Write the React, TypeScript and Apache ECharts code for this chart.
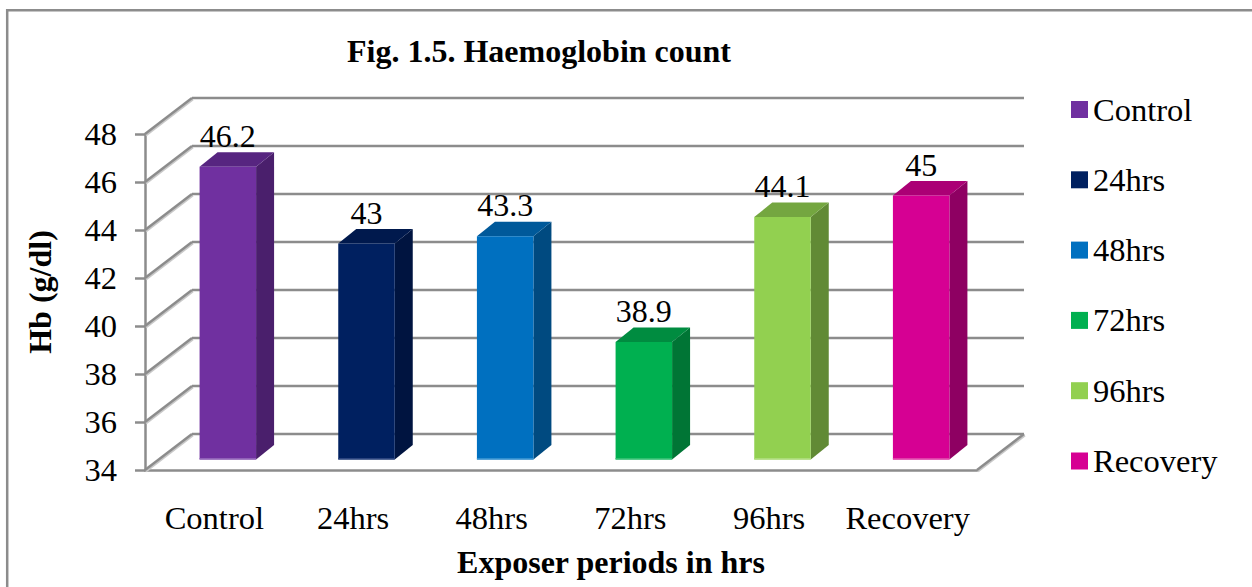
import React, { useEffect, useRef } from "react";
import * as echarts from "echarts";

const categories = ["Control", "24hrs", "48hrs", "72hrs", "96hrs", "Recovery"];
const values = [46.2, 43, 43.3, 38.9, 44.1, 45];
const labels = ["46.2", "43", "43.3", "38.9", "44.1", "45"];
const faceColors = ["#7030A0", "#002060", "#0070C0", "#00B050", "#92D050", "#D60093"];
const sideColors = ["#4A1F6C", "#001440", "#004A80", "#007535", "#618A35", "#8E0062"];
const topColors = ["#572580", "#00194D", "#00599A", "#008C40", "#74A640", "#AB0075"];
const rimColors = ["#9060B8", "#2A4480", "#3090D0", "#30C070", "#ACDC78", "#E040A8"];
const yTicks = [34, 36, 38, 40, 42, 44, 46, 48];

const FONT = '"Liberation Serif", "Times New Roman", serif';
const GRID_COLOR = "#8C8C8C";
const WALL_DX = 47;
const WALL_DY = -36;
const BAR_OFFSET_X = 13.5;
const BAR_OFFSET_Y = -10.5;
const BAR_WIDTH = 56.5;
const BAR_DX = 18;
const BAR_DY = -14.5;

const wallRender = (p: any, api: any) => {
  const v = api.value(0);
  const [, y] = api.coord([0, v]);
  const rect = p.coordSys;
  const left = rect.x;
  const right = rect.x + rect.width;
  const children: any[] = [
    {
      type: "line",
      shape: { x1: left + 1, y1: y + 1.5, x2: left + WALL_DX + 1, y2: y + WALL_DY + 1.5 },
      style: { stroke: "#C9C9C9", lineWidth: 2 },
    },
    {
      type: "line",
      shape: { x1: left, y1: y, x2: left + WALL_DX, y2: y + WALL_DY },
      style: { stroke: GRID_COLOR, lineWidth: 2.5 },
    },
    {
      type: "line",
      shape: { x1: left + WALL_DX, y1: y + WALL_DY, x2: right + WALL_DX, y2: y + WALL_DY },
      style: { stroke: GRID_COLOR, lineWidth: 2.5 },
    },
  ];
  if (v === yTicks[0]) {
    children.push(
      {
        type: "line",
        shape: { x1: right + 1, y1: y + 1.5, x2: right + WALL_DX + 1, y2: y + WALL_DY + 1.5 },
        style: { stroke: "#C9C9C9", lineWidth: 2 },
      },
      {
        type: "line",
        shape: { x1: right, y1: y, x2: right + WALL_DX, y2: y + WALL_DY },
        style: { stroke: GRID_COLOR, lineWidth: 2.5 },
      }
    );
  }
  return { type: "group", children };
};

const barRender = (index: number) => (_p: any, api: any) => {
  const cat = api.value(0);
  const val = api.value(1);
  const [cx, yTop0] = api.coord([cat, val]);
  const [, yBase0] = api.coord([cat, yTicks[0]]);
  const xL = cx + BAR_OFFSET_X - BAR_WIDTH / 2;
  const xR = xL + BAR_WIDTH;
  const yTop = yTop0 + BAR_OFFSET_Y;
  const yBase = yBase0 + BAR_OFFSET_Y;
  return {
    type: "group",
    children: [
      {
        type: "polygon",
        shape: { points: [[xR, yTop], [xR + BAR_DX, yTop + BAR_DY], [xR + BAR_DX, yBase + BAR_DY], [xR, yBase]] },
        style: { fill: sideColors[index] },
      },
      {
        type: "polygon",
        shape: { points: [[xL, yTop], [xL + BAR_DX, yTop + BAR_DY], [xR + BAR_DX, yTop + BAR_DY], [xR, yTop]] },
        style: { fill: topColors[index] },
      },
      {
        type: "rect",
        shape: { x: xL, y: yTop, width: BAR_WIDTH, height: yBase - yTop },
        style: { fill: faceColors[index] },
      },
      {
        type: "rect",
        shape: { x: xL, y: yBase - 1.5, width: BAR_WIDTH, height: 1.5 },
        style: { fill: rimColors[index] },
      },
      {
        type: "text",
        x: xL + BAR_WIDTH / 2,
        y: yTop + BAR_DY - 0.5,
        style: {
          text: labels[index],
          font: `32px ${FONT}`,
          fill: "#000",
          textAlign: "center",
          textVerticalAlign: "bottom",
        },
      },
    ],
  };
};

export default function App() {
  const ref = useRef<HTMLDivElement>(null);
  useEffect(() => {
    const chart = echarts.init(ref.current!, undefined, { renderer: "svg" });
    chart.setOption({
      animation: false,
      backgroundColor: "#fff",
      grid: { left: 145, right: 275, top: 134, bottom: 117 },
      title: {
        text: "Fig. 1.5. Haemoglobin count",
        left: 539,
        top: 35,
        padding: 0,
        textAlign: "center",
        textStyle: { fontFamily: FONT, fontSize: 32, fontWeight: "bold", color: "#000" },
      },
      legend: {
        orient: "vertical",
        left: 1071,
        top: 93,
        padding: 0,
        icon: "rect",
        itemWidth: 17,
        itemHeight: 17,
        itemGap: 37.3,
        data: categories,
        selectedMode: false,
        textStyle: { fontFamily: FONT, fontSize: 32.5, lineHeight: 33, color: "#000" },
      },
      xAxis: {
        type: "category",
        data: categories,
        axisLine: { show: true, lineStyle: { color: GRID_COLOR, width: 2.5 } },
        axisTick: { show: false },
        axisLabel: { interval: 0, fontFamily: FONT, fontSize: 32.5, color: "#000", margin: 31 },
        splitLine: { show: false },
      },
      yAxis: {
        type: "value",
        min: 34,
        max: 48,
        interval: 2,
        axisLine: { show: true, lineStyle: { color: GRID_COLOR, width: 2.5 } },
        axisTick: { show: true, length: 10, lineStyle: { color: GRID_COLOR, width: 2.5 } },
        axisLabel: { fontFamily: FONT, fontSize: 32.5, color: "#000", margin: 28 },
        splitLine: { show: false },
      },
      graphic: [
        {
          type: "line",
          silent: true,
          shape: { x1: 7, y1: 10.2, x2: 1252, y2: 10.2 },
          style: { stroke: GRID_COLOR, lineWidth: 2.5 },
        },
        {
          type: "line",
          silent: true,
          shape: { x1: 7.2, y1: 9, x2: 7.2, y2: 587 },
          style: { stroke: GRID_COLOR, lineWidth: 2.5 },
        },
        {
          type: "text",
          x: 40,
          y: 292,
          rotation: Math.PI / 2,
          style: {
            text: "Hb (g/dl)",
            font: `bold 32px ${FONT}`,
            fill: "#000",
            textAlign: "center",
            textVerticalAlign: "middle",
          },
        },
        {
          type: "text",
          x: 611,
          y: 562,
          style: {
            text: "Exposer periods in hrs",
            font: `bold 32px ${FONT}`,
            fill: "#000",
            textAlign: "center",
            textVerticalAlign: "middle",
          },
        },
      ],
      series: [
        {
          type: "custom",
          name: "walls",
          silent: true,
          z: 1,
          clip: false,
          data: yTicks.map((t) => [t]),
          encode: { y: 0 },
          renderItem: wallRender,
        },
        ...categories.map((name, i) => ({
          type: "custom",
          name,
          z: 2,
          clip: false,
          itemStyle: { color: faceColors[i] },
          data: [[i, values[i]]],
          encode: { x: 0, y: 1 },
          renderItem: barRender(i),
        })),
      ],
    });
    return () => chart.dispose();
  }, []);
  return <div ref={ref} style={{ width: 1252, height: 587, position: "absolute", left: 0, top: 0 }} />;
}
